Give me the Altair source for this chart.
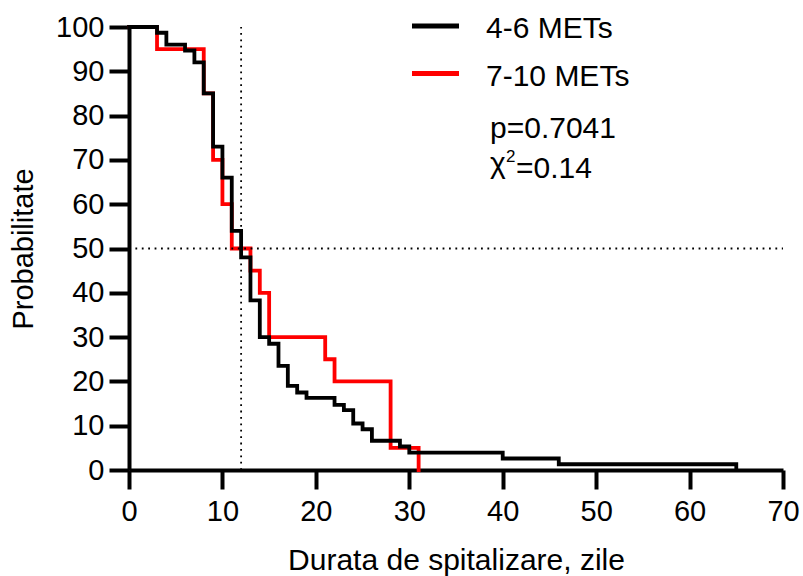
import altair as alt
import pandas as pd

# Kaplan-Meier estimates (survival in %, time in days)
black_days = [0, 3, 4, 6, 7, 8, 9, 10, 11, 12, 13, 14, 15, 16, 17, 18, 19, 22, 23, 24, 25, 26, 29, 30, 40, 46, 65]
black_surv = [100, 98.7, 96, 94.7, 92, 85, 73, 66, 54, 48, 38.3, 30, 28.5, 23.5, 19, 17.5, 16.3, 14.7, 13.5, 10.5, 9.2, 6.6, 5.3, 3.9, 2.6, 1.3, 0]

red_days = [0, 3, 8, 9, 10, 11, 13, 14, 15, 21, 22, 28, 31]
red_surv = [100, 95, 85, 70, 60, 50, 45, 40, 30, 25, 20, 5, 0]

group_names = ["4-6 METs", "7-10 METs"]
group_colors = ["#000000", "#ff0000"]

median_day = [12]
half_level = [50]

x_ticks = list(range(0, 71, 10))
y_ticks = list(range(0, 101, 10))

p_text = "p=0.7041"
chi_value = "=0.14"

FONT = "Liberation Sans"
W, H = 654, 443

black_df = pd.DataFrame({"day": black_days, "surv": black_surv, "grp": group_names[0]})
red_df = pd.DataFrame({"day": red_days, "surv": red_surv, "grp": group_names[1]})

x_scale = alt.Scale(domain=[0, 70], nice=False, zero=False)
y_scale = alt.Scale(domain=[0, 100], nice=False)

x_axis = alt.Axis(values=x_ticks, title="Durata de spitalizare, zile", tickSize=19,
                  labelPadding=8, titlePadding=19, labelFlush=False, titleFontSize=30)
y_axis = alt.Axis(values=y_ticks, title="Probabilitate", tickSize=20,
                  labelPadding=5, titlePadding=17)

color_scale = alt.Scale(domain=group_names, range=group_colors)


def km_layer(df):
    return alt.Chart(df).mark_line(interpolate="step-after", strokeWidth=3.8,
                                   strokeCap="square").encode(
        x=alt.X("day:Q", scale=x_scale, axis=x_axis),
        y=alt.Y("surv:Q", scale=y_scale, axis=y_axis),
        color=alt.Color("grp:N", scale=color_scale, legend=None),
    )


dots = dict(color="black", strokeWidth=1.8, strokeDash=[1.8, 4.6])
vline = alt.Chart(pd.DataFrame({"day": median_day})).mark_rule(**dots).encode(
    x=alt.X("day:Q", scale=x_scale, axis=x_axis), y=alt.datum(0), y2=alt.datum(100))
hline = alt.Chart(pd.DataFrame({"surv": half_level})).mark_rule(**dots).encode(
    y=alt.Y("surv:Q", scale=y_scale, axis=y_axis), x=alt.datum(0), x2=alt.datum(70))


def text_at(txt, x, y, size=30):
    return alt.Chart().mark_text(align="left", baseline="alphabetic", fontSize=size,
                                 font=FONT, color="black").encode(
        x=alt.value(x), y=alt.value(y), text=alt.value(txt))


def swatch(color, y):
    return alt.Chart().mark_rule(strokeWidth=5, color=color).encode(
        x=alt.value(283), x2=alt.value(330), y=alt.value(y))


# key and test statistics, positioned in pixels inside the plot area
legend_layers = [
    swatch(group_colors[0], -1), text_at(group_names[0], 357, 10.5),
    swatch(group_colors[1], 46.5), text_at(group_names[1], 357, 58.5),
    text_at(p_text, 361, 111),
    text_at("χ", 361, 146),
    text_at("2", 377, 135, size=17),
    text_at(chi_value, 387, 151),
]

chart = alt.layer(
    km_layer(red_df), km_layer(black_df), vline, hline, *legend_layers,
).properties(
    width=W, height=H,
    padding={"left": 129, "top": 27, "right": 803 - 129 - W, "bottom": 576 - 27 - H},
    autosize=alt.AutoSizeParams(type="none"),
    background="white",
).configure_view(stroke=None).configure_axis(
    domainColor="black", domainWidth=4, tickColor="black", tickWidth=4,
    labelFont=FONT, labelFontSize=29, labelColor="black",
    titleFont=FONT, titleFontSize=29, titleColor="black", titleFontWeight="normal",
    grid=False,
)

chart.save("out.html", embed_options={"renderer": "svg", "actions": False})
